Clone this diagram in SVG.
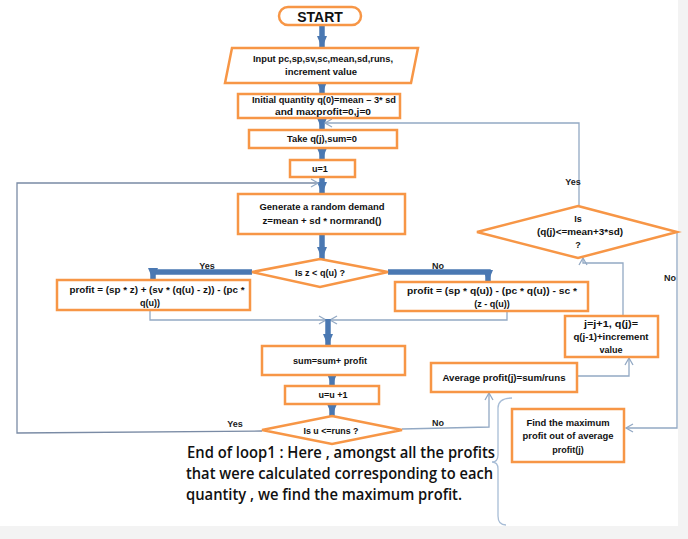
<svg xmlns="http://www.w3.org/2000/svg" width="688" height="539" viewBox="0 0 688 539">
<defs>
<style>
.box{fill:#ffffff;stroke:#f79646;stroke-width:2.5}
.t{font-family:"Liberation Sans",Arial,sans-serif;font-weight:bold;font-size:9px;fill:#111;text-anchor:middle;dominant-baseline:central}
.lbl{font-family:"Liberation Sans",Arial,sans-serif;font-weight:bold;font-size:9px;fill:#222;text-anchor:middle;dominant-baseline:central}
.thick{fill:none;stroke:#4a78b2;stroke-width:5.5}
.thin{fill:none;stroke:#93a9c4;stroke-width:1.3}
.note{font-family:"Open Sans","Liberation Sans",sans-serif;font-weight:600;font-size:16.5px;fill:#111}
</style>
<marker id="ah" markerUnits="userSpaceOnUse" markerWidth="14" markerHeight="10" refX="12" refY="5" orient="auto">
<path d="M0,0 L12,5 L0,10 Z" fill="#4a78b2"/>
</marker>
<marker id="oa" markerUnits="userSpaceOnUse" markerWidth="10" markerHeight="10" refX="8" refY="5" orient="auto">
<path d="M1,1 L8,5 L1,9" fill="none" stroke="#93a9c4" stroke-width="1.3"/>
</marker>
</defs>
<rect x="0" y="0" width="688" height="539" fill="#ffffff"/>
<rect x="678" y="0" width="10" height="539" fill="#f3f3f3"/>
<rect x="0" y="526" width="688" height="13" fill="#f3f3f3"/>

<g id="connectors">
<line class="thick" x1="322" y1="25" x2="322" y2="48" marker-end="url(#ah)"/>
<line class="thick" x1="322" y1="83" x2="322" y2="94" marker-end="url(#ah)"/>
<line class="thick" x1="322" y1="118" x2="322" y2="130" marker-end="url(#ah)"/>
<line class="thick" x1="322" y1="148" x2="322" y2="160" marker-end="url(#ah)"/>
<line class="thick" x1="322" y1="177" x2="322" y2="194" marker-end="url(#ah)"/>
<line class="thick" x1="322" y1="234" x2="322" y2="259" marker-end="url(#ah)"/>
<path class="thick" d="M252,272 H153 V280" marker-end="url(#ah)"/>
<path class="thick" d="M388,272 H488 V282" marker-end="url(#ah)"/>
<path class="thin" d="M150,310 V320 H326" marker-end="url(#oa)"/>
<path class="thin" d="M507,311 V320 H330" marker-end="url(#oa)"/>
<line class="thick" x1="328" y1="319" x2="328" y2="346" marker-end="url(#ah)"/>
<line class="thick" x1="332" y1="375" x2="332" y2="386" marker-end="url(#ah)"/>
<line class="thick" x1="332" y1="404" x2="332" y2="416" marker-end="url(#ah)"/>
<path class="thin" style="stroke:#7a8ba5" d="M262,431 L17,433 V183 H318" marker-end="url(#oa)"/>
<path class="thin" d="M402,429 L489,427 V393" marker-end="url(#oa)"/>
<path class="thin" d="M577,376 H629 V358" marker-end="url(#oa)"/>
<path class="thin" d="M623,316 V263 H583 V258" marker-end="url(#oa)"/>
<path class="thin" d="M579,206 V123 H325" marker-end="url(#oa)"/>
<path class="thin" d="M677,232 V428 H626" marker-end="url(#oa)"/>
<path class="thin" style="stroke:#a8bdd6" d="M512,398 Q498,398 498,408 V455 Q498,462 492,462 Q498,462 498,469 V516 Q498,525 506,525"/>
<text class="lbl" x="207" y="266">Yes</text>
<text class="lbl" x="438" y="266">No</text>
<text class="lbl" x="573" y="182">Yes</text>
<text class="lbl" x="670" y="278">No</text>
<text class="lbl" x="235" y="424">Yes</text>
<text class="lbl" x="438" y="423">No</text>
</g>

<g id="start">
<rect class="box" x="279" y="7" width="82" height="18" rx="9"/>
<text x="320" y="16.5" style="font-family:'Liberation Sans',Arial,sans-serif;font-weight:bold;font-size:14px;fill:#111;text-anchor:middle;dominant-baseline:central">START</text>
</g>
<g id="input">
<polygon class="box" points="232,48 418,48 411,83 225,83"/>
<text class="t" x="323" y="59" textLength="140" lengthAdjust="spacingAndGlyphs">Input pc,sp,sv,sc,mean,sd,runs,</text>
<text class="t" x="321" y="72" textLength="72" lengthAdjust="spacingAndGlyphs">increment value</text>
</g>
<g id="init">
<rect class="box" x="238" y="94" width="162" height="24"/>
<text class="t" x="324" y="100" textLength="144" lengthAdjust="spacingAndGlyphs">Initial quantity q(0)=mean – 3* sd</text>
<text class="t" x="323" y="112" textLength="96" lengthAdjust="spacingAndGlyphs">and maxprofit=0,j=0</text>
</g>
<g id="take">
<rect class="box" x="249" y="130" width="148" height="18"/>
<text class="t" x="322" y="139" textLength="70" lengthAdjust="spacingAndGlyphs">Take q(j),sum=0</text>
</g>
<g id="u1">
<rect class="box" x="290" y="160" width="65" height="17"/>
<text class="t" x="320" y="168.5">u=1</text>
</g>
<g id="generate">
<rect class="box" x="238" y="194" width="167" height="40"/>
<text class="t" x="322" y="207" textLength="125" lengthAdjust="spacingAndGlyphs">Generate a random demand</text>
<text class="t" x="322" y="221" textLength="119" lengthAdjust="spacingAndGlyphs">z=mean + sd * normrand()</text>
</g>
<g id="decision1">
<polygon class="box" points="320,259 388,272 320,287 252,272"/>
<text class="t" x="320" y="273" textLength="50" lengthAdjust="spacingAndGlyphs">Is z &lt; q(u) ?</text>
</g>
<g id="profitYes">
<rect class="box" x="57" y="280" width="193" height="30"/>
<text class="t" x="157" y="290" textLength="175" lengthAdjust="spacingAndGlyphs">profit = (sp * z) + (sv * (q(u) - z)) - (pc *</text>
<text class="t" x="150" y="303">q(u))</text>
</g>
<g id="profitNo">
<rect class="box" x="395" y="282" width="193" height="29"/>
<text class="t" x="492" y="291" textLength="170" lengthAdjust="spacingAndGlyphs">profit = (sp * q(u)) - (pc * q(u)) - sc *</text>
<text class="t" x="492" y="304">(z - q(u))</text>
</g>
<g id="sum">
<rect class="box" x="262" y="346" width="143" height="29"/>
<text class="t" x="330" y="361" textLength="74" lengthAdjust="spacingAndGlyphs">sum=sum+ profit</text>
</g>
<g id="uinc">
<rect class="box" x="285" y="386" width="94" height="18"/>
<text class="t" x="333" y="395">u=u +1</text>
</g>
<g id="decision2">
<polygon class="box" points="332,416 402,430 332,444 262,430"/>
<text class="t" x="331" y="431" textLength="55" lengthAdjust="spacingAndGlyphs">Is u &lt;=runs ?</text>
</g>
<g id="average">
<rect class="box" x="431" y="363" width="146" height="29"/>
<text class="t" x="504" y="378" textLength="123" lengthAdjust="spacingAndGlyphs">Average profit(j)=sum/runs</text>
</g>
<g id="jinc">
<rect class="box" x="565" y="316" width="93" height="41"/>
<text class="t" x="611" y="324" textLength="54" lengthAdjust="spacingAndGlyphs">j=j+1, q(j)=</text>
<text class="t" x="611" y="337" textLength="75" lengthAdjust="spacingAndGlyphs">q(j-1)+increment</text>
<text class="t" x="611" y="350">value</text>
</g>
<g id="decision3">
<polygon class="box" points="578,206 677,232 578,258 477,232"/>
<text class="t" x="578" y="219">Is</text>
<text class="t" x="580" y="232" textLength="86" lengthAdjust="spacingAndGlyphs">(q(j)&lt;=mean+3*sd)</text>
<text class="t" x="578" y="245">?</text>
</g>
<g id="findmax">
<rect class="box" x="512" y="409" width="112" height="53"/>
<text class="t" x="568" y="423" textLength="83" lengthAdjust="spacingAndGlyphs">Find the maximum</text>
<text class="t" x="568" y="436" textLength="91" lengthAdjust="spacingAndGlyphs">profit out of average</text>
<text class="t" x="568" y="450">profit(j)</text>
</g>
<g id="note">
<text class="note" x="187" y="458" textLength="308" lengthAdjust="spacingAndGlyphs">End of loop1 : Here , amongst all the profits</text>
<text class="note" x="186" y="479" textLength="307" lengthAdjust="spacingAndGlyphs">that were calculated corresponding to each</text>
<text class="note" x="186" y="500" textLength="276" lengthAdjust="spacingAndGlyphs">quantity , we find the maximum profit.</text>
</g>
</svg>
